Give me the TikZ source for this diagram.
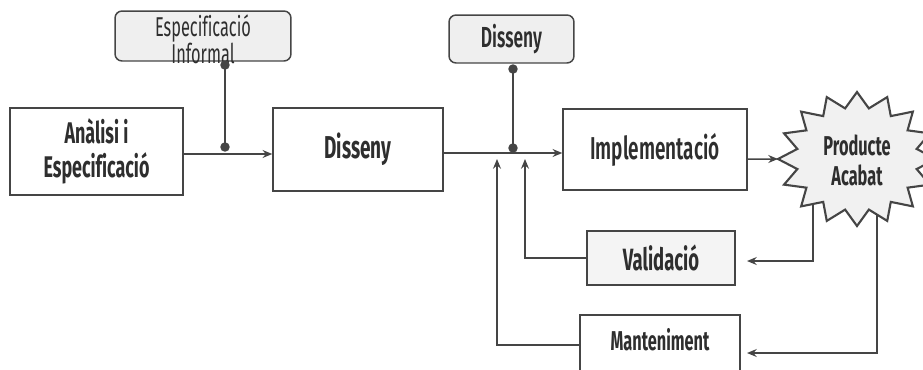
\documentclass[tikz,border=0pt]{standalone}
\usepackage{fontspec}
\setmainfont{Fira Sans}[FakeStretch=0.6,Ligatures=NoCommon]
\newfontfamily\semib{Fira Sans SemiBold}[FakeStretch=0.6,Ligatures=NoCommon]
\usetikzlibrary{arrows.meta,calc}
\definecolor{ink}{HTML}{2E2E2E}
\definecolor{edge}{HTML}{454545}
\definecolor{paleg}{HTML}{EFEFEF}
\definecolor{starfill}{HTML}{F1F1F1}

\begin{document}
\begin{tikzpicture}[x=0.02cm,y=-0.02cm,
  every node/.style={text=ink},
  box/.style={draw=edge,line width=0.85pt,fill=white,inner sep=0pt,align=center},
  rbox/.style={box,fill=paleg,rounded corners=4pt},
  gbox/.style={box,fill=paleg!70!white},
  wire/.style={draw=edge,line width=0.85pt},
  arr/.style={wire,-{Stealth[length=5.5pt,width=4.5pt,inset=1.8pt]}},
  dot/.style={fill=edge},
  big/.style={font=\fontsize{17}{19}\selectfont\bfseries},
]
\useasboundingbox (0,0) rectangle (923,369);

% process boxes
\node[box,big,minimum width=3.46cm,minimum height=1.74cm] (A) at (96.5,151.5) {Anàlisi i\\Especificació};
\node[rbox,minimum width=3.52cm,minimum height=1.0cm] (EI) at (203,36) {};
\node[align=center,font=\fontsize{15.5}{15.3}\selectfont] (EIt) at (203,39) {Especificació\\Informal};
\node[box,font=\fontsize{18}{20}\selectfont\bfseries,minimum width=3.4cm,minimum height=1.66cm] (D) at (358,149.5) {Disseny};
\node[rbox,font=\fontsize{16.5}{18}\semib,minimum width=2.5cm,minimum height=0.96cm] (DT) at (511.5,39) {Disseny};
\node[box,font=\fontsize{18}{20}\semib,minimum width=3.68cm,minimum height=1.62cm] (I) at (655,149.5) {Implementació};
\node[gbox,font=\fontsize{17.5}{20}\selectfont\bfseries,minimum width=2.96cm,minimum height=1.08cm] (V) at (661,258) {Validació};
\node[box,font=\fontsize{15.5}{18}\selectfont\bfseries,minimum width=3.2cm,minimum height=1.2cm,text depth=6pt] (M) at (660,345) {Manteniment};

% junction points and free ends
\coordinate (e1) at (225,65);
\coordinate (e2) at (225,147);
\coordinate (d1) at (513,69);
\coordinate (d2) at (513,148);
\coordinate (vup) at (525,159);
\coordinate (mup) at (497,159);
\coordinate (s1) at (813,195);
\coordinate (s2) at (877,200);
\coordinate (vin) at (747,261);
\coordinate (min) at (747,353);
\coordinate (tip) at (778,159);
\coordinate (a1) at ($(A.east)+(0,2.5)$);
\coordinate (b1) at ($(D.east)+(0,3.5)$);
\coordinate (c1) at ($(I.east)+(0,9.5)$);

% feedback lines leaving the finished product
\draw[arr] (s1) |- (vin);
\draw[arr] (s2) |- (min);

% finished product: sixteen-point star
\draw[draw=edge,line width=1.2pt,fill=starfill,line join=miter]
  (857+79,159)
  \foreach \k in {1,...,31}{
    -- ({857+79*(0.885+0.115*cos(\k*180))*cos(\k*11.25)},
        {159+67*(0.885+0.115*cos(\k*180))*sin(\k*11.25)})
  } -- cycle;
\node[align=center,font=\fontsize{15.5}{17}\selectfont\bfseries] (P) at (857,160) {Producte\\Acabat};

% main flow
\draw[arr] (a1) -- (a1 -| D.west);
\draw[arr] (b1) -- (b1 -| I.west);
\draw[arr] (c1) -- (tip);

% documents feeding the flow
\draw[wire] (e1) -- (e2);
\fill[dot] (e1) circle (2.7pt) (e2) circle (2.7pt);
\draw[wire] (d1) -- (d2);
\fill[dot] (d1) circle (2.7pt) (d2) circle (2.7pt);

% returns into the design stage
\draw[arr] (V.west) -| (vup);
\draw[arr] (M.west) -| (mup);
\end{tikzpicture}
\end{document}
